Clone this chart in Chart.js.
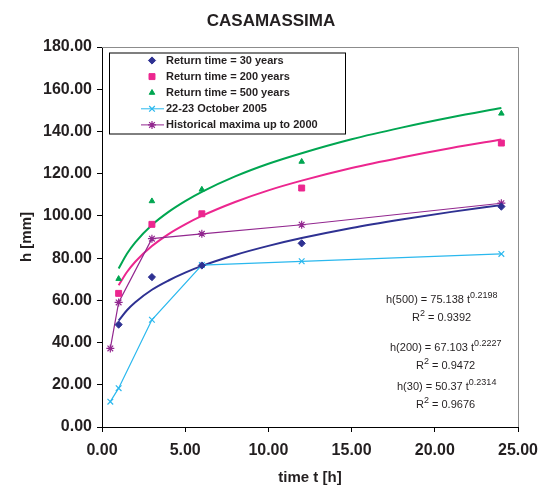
<!DOCTYPE html>
<html>
<head>
<meta charset="utf-8">
<title>CASAMASSIMA</title>
<script src="https://cdn.jsdelivr.net/npm/chart.js@4.4.1/dist/chart.umd.min.js"></script>
<style>
    html, body { margin: 0; padding: 0; background: #ffffff; }
    #wrap { position: relative; width: 542px; height: 490px; }
</style>
</head>
<body>
<div id="wrap"><canvas id="rainChart" width="542" height="490"></canvas></div>
<script>
// durations [h]
const durations = [0.5, 1, 3, 6, 12, 24];
const returnDurations = [1, 3, 6, 12, 24];

// depths [mm]
const rt30 = [48.5, 71.0, 76.5, 87.0, 104.4];
const rt200 = [63.3, 96.0, 101.0, 113.2, 134.5];
const rt500 = [70.2, 107.0, 112.5, 125.7, 148.5];
const oct2005 = [12.0, 18.4, 50.8, 76.7, 78.5, 82.0];
const histMax = [37.2, 59.0, 89.2, 91.5, 95.8, 106.0];

// power trend curves
const trendT = [1, 1.5, 2, 3, 4, 5, 6, 8, 10, 12, 15, 18, 21, 24];
const trend500 = [75.1, 82.1, 87.5, 95.7, 101.9, 107.0, 111.4, 118.7, 124.7, 129.7, 136.3, 141.8, 146.7, 151.1];
const trend200 = [67.1, 73.4, 78.3, 85.7, 91.4, 96.0, 100.0, 106.6, 112.1, 116.7, 122.7, 127.7, 132.2, 136.2];
const trend30 = [50.4, 55.3, 59.1, 65.0, 69.4, 73.1, 76.3, 81.5, 85.8, 89.5, 94.3, 98.3, 101.9, 105.1];

// fit labels
const fitNames = ['h(500)', 'h(200)', 'h(30)'];
const fitCoef = ['75.138', '67.103', '50.37'];
const fitExp = ['0.2198', '0.2227', '0.2314'];
const fitR2 = ['0.9392', '0.9472', '0.9676'];

const seriesLabels = [
    'Return time = 30 years',
    'Return time = 200 years',
    'Return time = 500 years',
    '22-23 October 2005',
    'Historical maxima up to 2000'
];

const FONT = 'Liberation Sans, Arial, Helvetica, sans-serif';
const TEXT = '#231f20';
const NAVY = '#2e3192';
const PINK = '#ec268f';
const GREEN = '#00a651';
const CYAN = '#2ab8ee';
const PURPLE = '#92278f';

const toXY = (xs, ys) => ys.map((y, i) => ({ x: xs[i], y: y }));

// gray frame on the top and right of the plot area
const framePlugin = {
    id: 'frame',
    beforeDatasetsDraw(chart) {
        const { ctx, chartArea: a } = chart;
        ctx.save();
        ctx.strokeStyle = '#8c8c8c';
        ctx.lineWidth = 1;
        ctx.beginPath();
        ctx.moveTo(a.left, a.top + 0.5);
        ctx.lineTo(a.right + 0.5, a.top + 0.5);
        ctx.lineTo(a.right + 0.5, a.bottom);
        ctx.stroke();
        ctx.restore();
    }
};

// title, boxed legend inside the plot, and the fit equations
const overlayPlugin = {
    id: 'overlay',
    afterDraw(chart) {
        const ctx = chart.ctx;
        ctx.save();

        ctx.fillStyle = TEXT;
        ctx.font = 'bold 17px ' + FONT;
        ctx.textAlign = 'center';
        ctx.textBaseline = 'middle';
        ctx.fillText('CASAMASSIMA', chart.width / 2, 21);

        // legend box
        const bx = 109, by = 52.5, bw = 236, bh = 81;
        ctx.fillStyle = '#ffffff';
        ctx.fillRect(bx, by, bw, bh);
        ctx.strokeStyle = '#000000';
        ctx.lineWidth = 1;
        ctx.strokeRect(bx + 0.5, by + 0.5, bw, bh);

        ctx.font = 'bold 11px ' + FONT;
        ctx.textAlign = 'left';
        seriesLabels.forEach((label, i) => {
            const ds = chart.data.datasets[i];
            const y = 60.5 + i * 16.1;
            const mx = 152;
            if (ds.showLine !== false) {
                ctx.strokeStyle = ds.borderColor;
                ctx.lineWidth = 1;
                ctx.beginPath();
                ctx.moveTo(141, y);
                ctx.lineTo(164, y);
                ctx.stroke();
            }
            ctx.fillStyle = ds.pointBackgroundColor;
            ctx.strokeStyle = ds.pointBorderColor;
            ctx.lineWidth = ds.pointBorderWidth;
            Chart.helpers.drawPoint(ctx, {
                pointStyle: ds.pointStyle,
                radius: ds.pointRadius,
                rotation: 0,
                borderWidth: ds.pointBorderWidth
            }, mx, y);
            ctx.fillStyle = TEXT;
            ctx.fillText(label, 166, y + 0.5);
        });

        // fit equations
        const eqLeft = [386, 390, 397];
        const r2Left = [412, 416, 416];
        const eqY = [300, 348, 387];
        ctx.fillStyle = TEXT;
        fitNames.forEach((name, i) => {
            ctx.font = '11px ' + FONT;
            const main = name + ' = ' + fitCoef[i] + ' t';
            ctx.fillText(main, eqLeft[i], eqY[i]);
            const w = ctx.measureText(main).width;
            ctx.font = '9px ' + FONT;
            ctx.fillText(fitExp[i], eqLeft[i] + w, eqY[i] - 4);

            const ry = eqY[i] + 18;
            ctx.font = '11px ' + FONT;
            ctx.fillText('R', r2Left[i], ry);
            const rw = ctx.measureText('R').width;
            ctx.font = '9px ' + FONT;
            ctx.fillText('2', r2Left[i] + rw, ry - 4);
            const sw = ctx.measureText('2').width;
            ctx.font = '11px ' + FONT;
            ctx.fillText(' = ' + fitR2[i], r2Left[i] + rw + sw, ry);
        });
        ctx.restore();
    }
};

function markerSet(label, data, color, style, radius) {
    return {
        label: label,
        data: data,
        showLine: false,
        borderColor: color,
        backgroundColor: color,
        pointStyle: style,
        pointRadius: radius,
        pointBackgroundColor: color,
        pointBorderColor: color,
        pointBorderWidth: 1,
        order: 1
    };
}

function lineSet(label, data, color, style) {
    return {
        label: label,
        data: data,
        showLine: true,
        borderColor: color,
        backgroundColor: color,
        borderWidth: 1.2,
        pointStyle: style,
        pointRadius: 4,
        pointBackgroundColor: color,
        pointBorderColor: color,
        pointBorderWidth: 1.2,
        tension: 0,
        order: 2
    };
}

function trendSet(data, color) {
    return {
        label: '',
        data: toXY(trendT, data),
        showLine: true,
        borderColor: color,
        borderWidth: 2,
        pointRadius: 0,
        cubicInterpolationMode: 'monotone',
        order: 3
    };
}

const tickFont = { family: FONT, size: 16, weight: 'bold' };
const axisTitleFont = { family: FONT, size: 15, weight: 'bold' };

new Chart(document.getElementById('rainChart'), {
    type: 'scatter',
    data: {
        datasets: [
            markerSet(seriesLabels[0], toXY(returnDurations, rt30), NAVY, 'rectRot', 3.6),
            markerSet(seriesLabels[1], toXY(returnDurations, rt200), PINK, 'rect', 4.2),
            markerSet(seriesLabels[2], toXY(returnDurations, rt500), GREEN, 'triangle', 3.2),
            lineSet(seriesLabels[3], toXY(durations, oct2005), CYAN, 'crossRot'),
            lineSet(seriesLabels[4], toXY(durations, histMax), PURPLE, 'star'),
            trendSet(trend500, GREEN),
            trendSet(trend200, PINK),
            trendSet(trend30, NAVY)
        ]
    },
    options: {
        responsive: false,
        animation: false,
        layout: {
            padding: { top: 47, right: 24, bottom: 0, left: 0 }
        },
        plugins: {
            legend: { display: false },
            tooltip: { enabled: false },
            title: { display: false }
        },
        scales: {
            x: {
                type: 'linear',
                min: 0,
                max: 25,
                afterFit(scale) {
                    scale.height = 63;
                    // keep the plot edge fixed; the end labels may overhang
                    scale.paddingLeft = 0;
                    scale.paddingRight = 0;
                },
                grid: { drawOnChartArea: false, tickLength: 5, tickColor: '#000000' },
                border: { color: '#000000', width: 1 },
                ticks: {
                    stepSize: 5,
                    color: TEXT,
                    font: tickFont,
                    padding: 9,
                    maxRotation: 0,
                    callback: v => v.toFixed(2)
                },
                title: {
                    display: true,
                    text: 'time t [h]',
                    color: TEXT,
                    font: axisTitleFont,
                    padding: { top: 0, bottom: 3 }
                }
            },
            y: {
                min: 0,
                max: 180,
                afterFit(scale) { scale.width = 102; },
                grid: { drawOnChartArea: false, tickLength: 5, tickColor: '#000000' },
                border: { color: '#000000', width: 1 },
                ticks: {
                    stepSize: 20,
                    color: TEXT,
                    font: tickFont,
                    padding: 5,
                    callback: v => v.toFixed(2)
                },
                title: {
                    display: true,
                    text: 'h [mm]',
                    color: TEXT,
                    font: axisTitleFont,
                    padding: { top: 18, bottom: 0 }
                }
            }
        }
    },
    plugins: [framePlugin, overlayPlugin]
});
</script>
</body>
</html>
